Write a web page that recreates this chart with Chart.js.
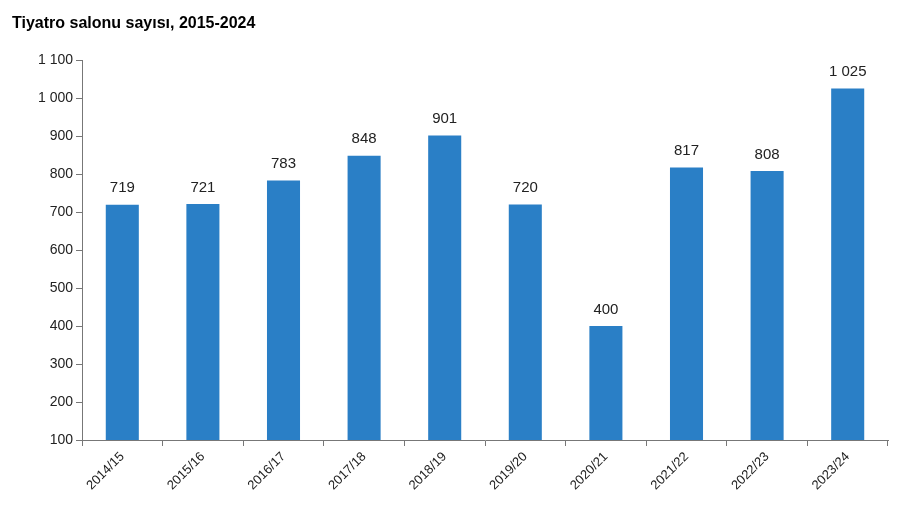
<!DOCTYPE html>
<html><head><meta charset="utf-8">
<script src="https://cdn.jsdelivr.net/npm/chart.js@4"></script>
<style>
html,body{margin:0;padding:0;background:#fff;}
#t{position:absolute;left:12px;top:14px;font:bold 16px "Liberation Sans",Arial,sans-serif;color:#000;}
#w{position:absolute;left:0;top:0;width:903px;height:532px;}
</style></head><body>
<div id="w"><canvas id="c" width="903" height="532"></canvas></div>
<div id="t">Tiyatro salonu sayısı, 2015-2024</div>
<script>
const categories=["2014/15","2015/16","2016/17","2017/18","2018/19","2019/20","2020/21","2021/22","2022/23","2023/24"];
const values=[719,721,783,848,901,720,400,817,808,1025];
const fmt=v=>String(v).replace(/\B(?=(\d{3})+(?!\d))/g,' ');
const labelsPlugin={id:'lbl',afterDatasetsDraw(ch){const ctx=ch.ctx;const m=ch.getDatasetMeta(0);ctx.save();ctx.font='15px "Liberation Sans",Arial,sans-serif';ctx.fillStyle='#222';ctx.textAlign='center';ctx.textBaseline='bottom';m.data.forEach((b,i)=>ctx.fillText(fmt(values[i]),b.x,b.y-9));ctx.restore();}};
new Chart(document.getElementById('c'),{type:'bar',
data:{labels:categories,datasets:[{data:values,backgroundColor:'#2a7fc6',categoryPercentage:1,barPercentage:0.41}]},
options:{responsive:false,animation:false,devicePixelRatio:1,
layout:{padding:{top:60,right:15,left:0,bottom:0}},
plugins:{legend:{display:false},tooltip:{enabled:false}},
scales:{
x:{grid:{display:true,drawOnChartArea:false,offset:true,color:'#777',tickLength:6},border:{color:'#777'},
ticks:{color:'#222',font:{size:13,family:'"Liberation Sans",Arial,sans-serif'},maxRotation:45,minRotation:45},
afterFit:s=>{s.height=92;}},
y:{min:100,max:1100,grid:{display:true,drawOnChartArea:false,color:'#777',tickLength:6},border:{color:'#777'},
ticks:{stepSize:100,color:'#222',font:{size:14,family:'"Liberation Sans",Arial,sans-serif'},callback:v=>fmt(v)},
afterFit:s=>{s.width=82;}}
}},plugins:[labelsPlugin]});
</script></body></html>
